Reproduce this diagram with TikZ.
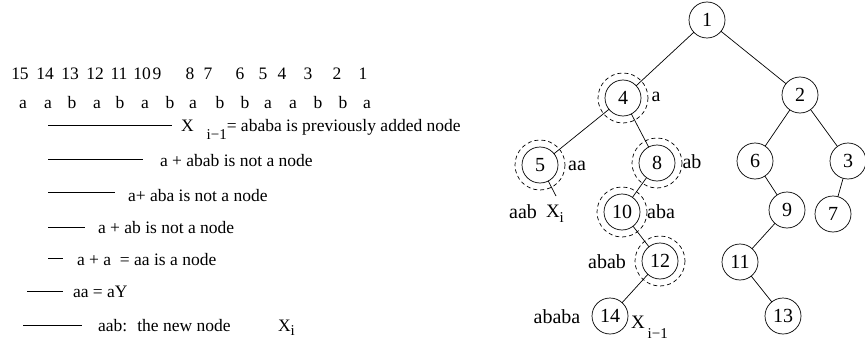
\documentclass[tikz,border=0pt]{standalone}
\usepackage{fontspec}
\setmainfont{Liberation Serif}
\newfontfamily\timesface{Liberation Serif}
\newcommand{\lowidx}[2]{\raisebox{#1}{\fontsize{15}{16}\selectfont #2}}

\begin{document}
\begin{tikzpicture}[x=1pt, y=-1pt,
          line width = 0.7pt,
          every node/.style = {inner sep = 0pt,
                              outer sep = 0pt},
          rowtext/.style    = {anchor = base west,
                              font   = \timesface\fontsize{17.5}{20}\selectfont},
          digit/.style      = {anchor = base,
                              font   = \timesface\fontsize{17.5}{20}\selectfont},
          trienode/.style   = {draw, circle,
                              minimum size = 36pt,
                              font = \timesface\fontsize{20}{24}\selectfont},
          trielabel/.style  = {anchor = base,
                              font   = \timesface\fontsize{20}{24}\selectfont},
          ring/.style       = {dash pattern = on 4pt off 3pt}]
  \useasboundingbox (0,0) rectangle (865,345);

  % positions and characters of the string
  \foreach \num/\xx in {15/20,14/45,13/70,12/95,11/119,10/142,9/157,8/190,
                        7/208,6/240,5/263,4/282,3/308,2/337,1/363}
    \node[digit] (pos\num) at (\xx,80) {\num};
  \foreach \ch/\xx [count=\k] in {a/23,a/48,b/72,a/97,b/120,a/145,b/170,a/193,
                                  b/220,b/245,a/268,a/293,b/318,b/343,a/367}
    \node[digit] (chr\k) at (\xx,108) {\ch};

  % suffix steps
  \draw (48,125) -- (172,125);
  \node[rowtext] (step1) at (181,131)
       {X\hspace{13pt}\lowidx{-9pt}{i−1}= ababa is previously added node};
  \draw (48,159) -- (143,159);
  \node[rowtext] (step2) at (160,166) {a + abab is not a node};
  \draw (48,192) -- (115,192);
  \node[rowtext] (step3) at (128,201) {a+ aba is not a node};
  \draw (48,227) -- (85,227);
  \node[rowtext] (step4) at (98,233) {a + ab is not a node};
  \draw (48,258) -- (63,258);
  \node[rowtext] (step5) at (77,265) {a + a \ = aa is a node};
  \draw (27,291) -- (63,291);
  \node[rowtext] (step6) at (73,297) {aa = aY};
  \draw (23,325) -- (82,325);
  \node[rowtext] (step7) at (98,331) {aab: \ the new node};
  \node[rowtext] (step7x) at (278,331) {X\lowidx{-4pt}{i}};

  % the tree
  \node[trienode] (t1)  at (707,20)  {1};
  \node[trienode] (t2)  at (800,95)  {2};
  \node[trienode] (t3)  at (848,161) {3};
  \node[trienode] (t4)  at (623,98)  {4};
  \node[trienode] (t5)  at (540,165) {5};
  \node[trienode] (t6)  at (755,161) {6};
  \node[trienode] (t7)  at (833,214) {7};
  \node[trienode] (t8)  at (657,163) {8};
  \node[trienode] (t9)  at (787,210) {9};
  \node[trienode] (t10) at (622,212) {10};
  \node[trienode] (t11) at (740,262) {11};
  \node[trienode] (t12) at (660,261) {12};
  \node[trienode] (t13) at (783,316) {13};
  \node[trienode] (t14) at (610,316) {14};
  \coordinate (xtail) at (556,196);

  \foreach \k in {4,5,8,10,12}
    \draw[ring] (t\k.center) circle (25);

  \draw (t1) -- (t4)  (t1) -- (t2)
        (t4) -- (t5)  (t4) -- (t8)
        (t8) -- (t10) (t10) -- (t12) (t12) -- (t14)
        (t2) -- (t6)  (t2) -- (t3)
        (t6) -- (t9)  (t9) -- (t11) (t11) -- (t13)
        (t3) -- (t7)
        (t5) -- (xtail);

  \node[trielabel] (la)     at (656,102) {a};
  \node[trielabel] (laa)    at (577,170) {aa};
  \node[trielabel] (lab)    at (692,168) {ab};
  \node[trielabel] (laab)   at (523,218) {aab};
  \node[trielabel, anchor=base west] (lxi) at (546,217)
       {\fontsize{19}{22}\selectfont X\lowidx{-5pt}{i}};
  \node[trielabel] (laba)   at (661,218) {aba};
  \node[trielabel] (labab)  at (607,268) {abab};
  \node[trielabel] (lababa) at (557,323) {ababa};
  \node[trielabel, anchor=base west] (lxprev) at (631,328)
       {\fontsize{19}{22}\selectfont X\hspace{3pt}\lowidx{-10pt}{i−1}};
\end{tikzpicture}
\end{document}
